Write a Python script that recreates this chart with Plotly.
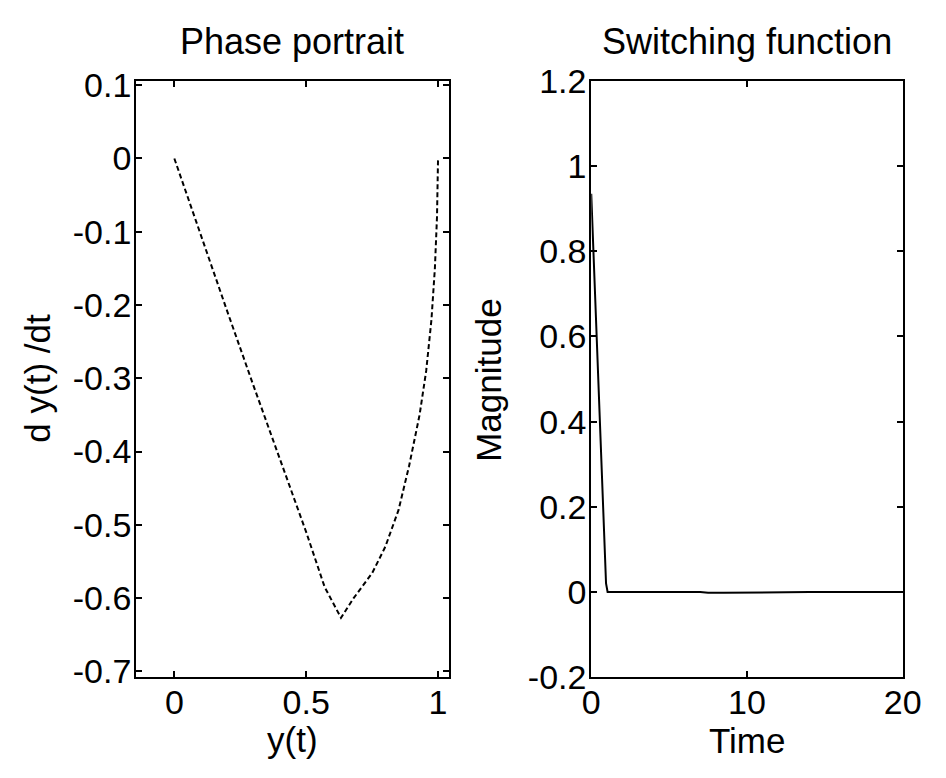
import plotly.graph_objects as go

# Phase portrait: y(t) against its derivative
phase_y = [0.0, 0.1, 0.2, 0.3, 0.4, 0.5, 0.57, 0.632,
           0.68, 0.75, 0.80, 0.85, 0.89, 0.93, 0.955, 0.975, 0.988, 0.996, 1.0]
phase_dy = [0.0, -0.105, -0.208, -0.31, -0.41, -0.51, -0.585, -0.627,
            -0.600, -0.566, -0.53, -0.48, -0.42, -0.35, -0.29, -0.22, -0.15, -0.08, 0.0]

# Switching function over time
sw_time = [0.0, 0.2, 0.4, 0.6, 0.8, 0.95, 1.05, 2.0, 7.0, 7.5, 8.5, 14.0, 15.0, 20.0]
sw_mag = [0.935, 0.75, 0.57, 0.38, 0.2, 0.02, 0.0, 0.0, 0.0, -0.002, -0.002, 0.0, 0.0, 0.0]

phase_xticks = [0, 0.5, 1]
phase_xlabels = ["0", "0.5", "1"]
phase_yticks = [-0.7, -0.6, -0.5, -0.4, -0.3, -0.2, -0.1, 0, 0.1]
phase_ylabels = ["-0.7", "-0.6", "-0.5", "-0.4", "-0.3", "-0.2", "-0.1", "0", "0.1"]
sw_xticks = [0, 10, 20]
sw_xlabels = ["0", "10", "20"]
sw_yticks = [-0.2, 0, 0.2, 0.4, 0.6, 0.8, 1.0, 1.2]
sw_ylabels = ["-0.2", "0", "0.2", "0.4", "0.6", "0.8", "1", "1.2"]

W, H = 946, 778
FONT = "Liberation Sans, Arial, sans-serif"
TICK_SIZE = 34
LABEL_SIZE = 35
TITLE_SIZE = 36

fig = go.Figure()
fig.add_trace(go.Scatter(x=phase_y, y=phase_dy, mode="lines",
                         line=dict(color="black", width=2, dash="5px,3px"),
                         xaxis="x", yaxis="y", showlegend=False))
fig.add_trace(go.Scatter(x=sw_time, y=sw_mag, mode="lines",
                         line=dict(color="black", width=2),
                         xaxis="x2", yaxis="y2", showlegend=False))

# pixel boxes of the two axes
L1, R1 = 131, 453
L2, R2 = 600, 921
TOP, BOT = 65, 692


def px(v):
    return v / W


def py(v):
    return 1 - v / H


axis_common = dict(showline=True, linecolor="black", linewidth=2, mirror="ticks",
                   ticks="inside", ticklen=6, tickwidth=1.5, tickcolor="black",
                   showgrid=False, zeroline=False,
                   tickfont=dict(family=FONT, size=TICK_SIZE, color="black"))

fig.update_layout(
    width=W, height=H,
    margin=dict(l=0, r=0, t=0, b=0),
    paper_bgcolor="white", plot_bgcolor="white",
    font=dict(family=FONT, color="black"),
    xaxis=dict(domain=[px(L1), px(R1)], range=[-0.145, 1.04],
               tickvals=phase_xticks, ticktext=phase_xlabels,
               anchor="y", ticklabelstandoff=-6, **axis_common),
    yaxis=dict(domain=[py(BOT), py(TOP)], range=[-0.708, 0.106],
               tickvals=phase_yticks, ticktext=phase_ylabels,
               anchor="x", ticklabelstandoff=-4, **axis_common),
    xaxis2=dict(domain=[px(L2), px(R2)], range=[0, 20],
                tickvals=sw_xticks, ticktext=sw_xlabels,
                anchor="y2", ticklabelstandoff=-6, **axis_common),
    yaxis2=dict(domain=[py(BOT), py(TOP)], range=[-0.2, 1.2],
                tickvals=sw_yticks, ticktext=sw_ylabels,
                anchor="x2", ticklabelstandoff=-4, **axis_common),
)

label_font = dict(family=FONT, size=LABEL_SIZE, color="black")
title_font = dict(family=FONT, size=TITLE_SIZE, color="black")
annotations = [
    dict(text="Phase portrait", x=px((L1 + R1) / 2), y=py(24), font=title_font),
    dict(text="Switching function", x=px((L2 + R2) / 2), y=py(24), font=title_font),
    dict(text="y(t)", x=px((L1 + R1) / 2), y=py(758), font=label_font),
    dict(text="Time", x=px((L2 + R2) / 2), y=py(759), font=label_font),
    dict(text="d y(t) /dt", x=px(29), y=py(378), textangle=-90, font=label_font),
    dict(text="Magnitude", x=px(494), y=py(380), textangle=-90, font=label_font),
]
for a in annotations:
    a.update(xref="paper", yref="paper", showarrow=False,
             xanchor="center", yanchor="middle")
fig.update_layout(annotations=annotations)

fig.write_html("out.html")
